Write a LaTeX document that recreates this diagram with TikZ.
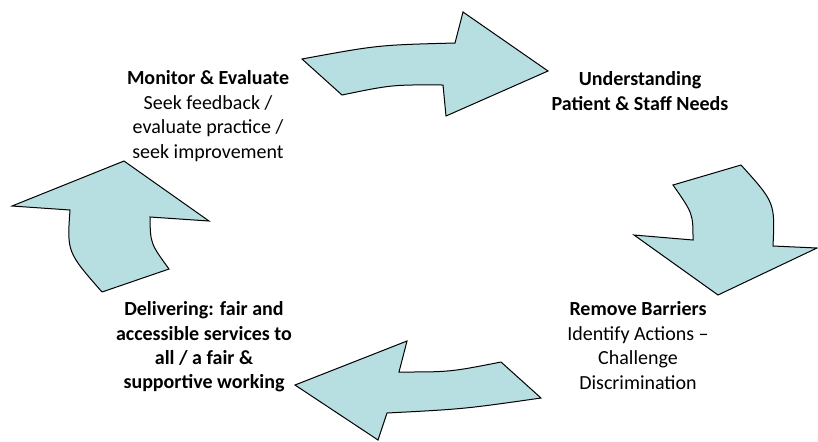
\documentclass[tikz,border=0pt]{standalone}
\usepackage{fontspec}
\setmainfont{Carlito}
\usepackage{xcolor}
\usepackage{tikz}
\definecolor{CycleAqua}{HTML}{B7DEE1}
\newcommand{\stage}[1]{\textbf{#1}}

\begin{document}
\begin{tikzpicture}[
    x=0.5pt, y=-0.5pt,
    flow/.style={fill=CycleAqua, draw=black, line width=0.5pt, line join=miter},
    stagetext/.style={align=center, inner sep=0pt, font=\fontsize{10}{12.2}\selectfont}
]

\useasboundingbox (0,0) rectangle (818,441);

\node[stagetext] (monitor) at (208,116) {\stage{Monitor \& Evaluate}\\Seek feedback /\\evaluate practice /\\seek improvement};
\node[stagetext] (needs) at (640,91) {\stage{Understanding}\\\stage{Patient \& Staff Needs}};
\node[stagetext] (barriers) at (638,345.5) {\stage{Remove Barriers}\\Identify Actions --\\Challenge\\Discrimination};
\node[stagetext, font=\fontsize{10}{12.2}\selectfont\bfseries] (delivering) at (204,347) {Delivering: fair and\\accessible services to\\all / a fair \&\\supportive working};

\draw[flow] (302,59) .. controls (378,45) .. (455,43) -- (463,12) -- (548,71) -- (446,116) -- (443,85) .. controls (392,84.7) .. (342,95) -- cycle;
\draw[flow] (741,165) .. controls (775,202.6) .. (773,246) -- (817,248) -- (718,295) -- (634,235) -- (693,240) .. controls (693,213.6) .. (673,185) -- cycle;
\draw[flow] (541,398) .. controls (464,409) .. (387,413) -- (378,440) -- (295,385) -- (407,341) -- (399,372) .. controls (450,372) .. (501,362) -- cycle;
\draw[flow] (102,292) -- (169,269) .. controls (150.4,243.4) .. (150,217) -- (209,221) -- (124,161) -- (12,206) -- (70,210) .. controls (67,252) .. (102,292);

\end{tikzpicture}
\end{document}
